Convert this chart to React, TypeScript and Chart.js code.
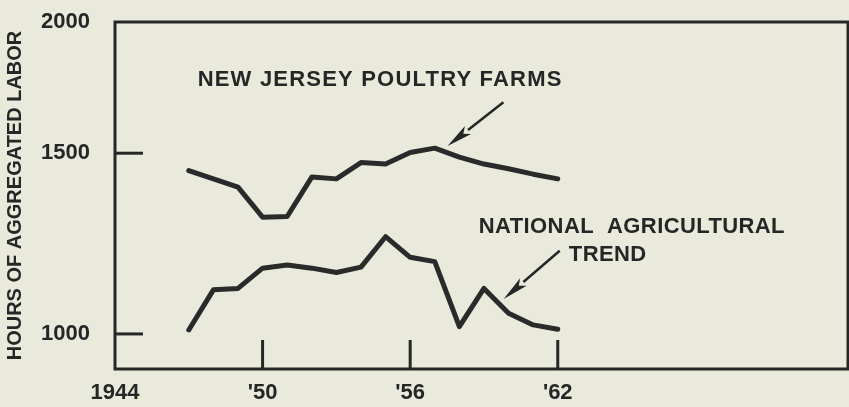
import React, { useEffect, useRef } from "react";
import { Chart, registerables } from "chart.js";

Chart.register(...registerables);

// ---- data ----
const years = [1947, 1948, 1949, 1950, 1951, 1952, 1953, 1954, 1955, 1956, 1957, 1958, 1959, 1960, 1961, 1962];
const njPoultry = [1452, 1429, 1406, 1323, 1325, 1434, 1429, 1474, 1470, 1502, 1514, 1489, 1470, 1457, 1442, 1429];
const nationalTrend = [1011, 1122, 1126, 1182, 1191, 1182, 1170, 1185, 1269, 1212, 1200, 1020, 1126, 1057, 1025, 1013];

const xTickValues = [1944, 1950, 1956, 1962];
const xTickLabels = ["1944", "'50", "'56", "'62"];
const xMarkValues = [1950, 1956, 1962];
const yTickValues = [1000, 1500, 1863];
const yTickLabels = ["1000", "1500", "2000"];
const yMarkValues = [1000, 1500];
const xMin = 1944;
const xMax = 1973.8;
const yMin = 903;
const yMax = 1863;
const yAxisTitle = "HOURS OF AGGREGATED LABOR";

const labelTexts = ["NEW JERSEY POULTRY FARMS", "NATIONAL  AGRICULTURAL", "TREND"];
const labelX = [1947.36, 1958.79, 1962.45];
const labelY = [1703, 1296, 1219];
const arrowFromX = [1959.79, 1962.08];
const arrowFromY = [1641, 1230];
const arrowToX = [1957.52, 1959.8];
const arrowToY = [1520, 1097];

const INK = "#262626";
const BG = "#e9eadb";
const FONT = "'Liberation Sans', Arial, sans-serif";

const decorPlugin = {
  id: "decor",
  afterDatasetsDraw(chart: any) {
    const { ctx, chartArea: a, scales } = chart;
    const xs = scales.x;
    const ys = scales.y;
    ctx.save();
    ctx.strokeStyle = INK;
    ctx.fillStyle = INK;
    // frame
    ctx.lineWidth = 3;
    ctx.strokeRect(a.left, a.top, a.right - a.left, a.bottom - a.top);
    // inward tick marks
    ctx.lineWidth = 3;
    ctx.lineCap = "butt";
    xMarkValues.forEach((v) => {
      const px = xs.getPixelForValue(v);
      ctx.beginPath();
      ctx.moveTo(px, a.bottom);
      ctx.lineTo(px, a.bottom - 29);
      ctx.stroke();
    });
    yMarkValues.forEach((v) => {
      const py = ys.getPixelForValue(v);
      ctx.beginPath();
      ctx.moveTo(a.left, py);
      ctx.lineTo(a.left + 28, py);
      ctx.stroke();
    });
    // labels
    ctx.font = `bold 22px ${FONT}`;
    ctx.textAlign = "left";
    ctx.textBaseline = "middle";
    labelTexts.forEach((t, i) => {
      (ctx as any).letterSpacing = i === 0 ? "1.2px" : "0.4px";
      ctx.fillText(t, xs.getPixelForValue(labelX[i]), ys.getPixelForValue(labelY[i]));
    });
    (ctx as any).letterSpacing = "0px";
    // arrows
    arrowFromX.forEach((_, i) => {
      const x1 = xs.getPixelForValue(arrowFromX[i]);
      const y1 = ys.getPixelForValue(arrowFromY[i]);
      const x2 = xs.getPixelForValue(arrowToX[i]);
      const y2 = ys.getPixelForValue(arrowToY[i]);
      const ang = Math.atan2(y2 - y1, x2 - x1);
      const headLen = 26;
      const halfW = 5;
      const bx = x2 - headLen * Math.cos(ang);
      const by = y2 - headLen * Math.sin(ang);
      ctx.lineWidth = 2.5;
      ctx.beginPath();
      ctx.moveTo(x1, y1);
      ctx.lineTo(bx, by);
      ctx.stroke();
      ctx.beginPath();
      ctx.moveTo(x2, y2);
      ctx.lineTo(bx + halfW * Math.sin(ang), by - halfW * Math.cos(ang));
      ctx.lineTo(bx + 6 * Math.cos(ang), by + 6 * Math.sin(ang));
      ctx.lineTo(bx - halfW * Math.sin(ang), by + halfW * Math.cos(ang));
      ctx.closePath();
      ctx.fill();
    });
    ctx.restore();
  },
};

export default function App() {
  const canvasRef = useRef<HTMLCanvasElement | null>(null);

  useEffect(() => {
    if (!canvasRef.current) return;
    const mk = (vals: number[]) => years.map((y, i) => ({ x: y, y: vals[i] }));
    const lineStyle = {
      borderColor: "#2a2a2a",
      borderWidth: 5,
      pointRadius: 0,
      tension: 0,
      fill: false,
      borderJoinStyle: "round" as const,
      borderCapStyle: "round" as const,
    };
    const chart = new Chart(canvasRef.current, {
      type: "line",
      data: {
        datasets: [
          { label: "New Jersey poultry farms", data: mk(njPoultry), ...lineStyle },
          { label: "National agricultural trend", data: mk(nationalTrend), ...lineStyle },
        ],
      },
      options: {
        animation: false,
        responsive: true,
        maintainAspectRatio: false,
        layout: { padding: { top: 22, right: 1, left: 0, bottom: 0 } },
        plugins: { legend: { display: false }, tooltip: { enabled: false }, title: { display: false } },
        scales: {
          x: {
            type: "linear",
            min: xMin,
            max: xMax,
            grid: { display: false, drawTicks: false },
            border: { display: false },
            afterBuildTicks: (scale: any) => {
              scale.ticks = xTickValues.map((v) => ({ value: v }));
            },
            afterFit: (scale: any) => {
              scale.height = 38;
              scale.paddingLeft = 0;
              scale.paddingRight = 0;
            },
            ticks: {
              autoSkip: false,
              maxRotation: 0,
              padding: 11,
              color: INK,
              font: { family: FONT, size: 22, weight: "bold" },
              callback: (v: any) => {
                const i = xTickValues.indexOf(Number(v));
                return i >= 0 ? xTickLabels[i] : "";
              },
            },
          },
          y: {
            type: "linear",
            min: yMin,
            max: yMax,
            grid: { display: false, drawTicks: false },
            border: { display: false },
            afterBuildTicks: (scale: any) => {
              scale.ticks = yTickValues.map((v) => ({ value: v }));
            },
            afterFit: (scale: any) => {
              scale.width = 115;
              scale.paddingTop = 0;
              scale.paddingBottom = 0;
            },
            title: {
              display: true,
              text: yAxisTitle,
              color: INK,
              font: { family: FONT, size: 20, weight: "bold" },
              padding: { top: 3, bottom: 0 },
            },
            ticks: {
              autoSkip: false,
              padding: 25,
              color: INK,
              font: { family: FONT, size: 22, weight: "bold" },
              callback: (v: any) => {
                const i = yTickValues.indexOf(Number(v));
                return i >= 0 ? yTickLabels[i] : "";
              },
            },
          },
        },
      },
      plugins: [decorPlugin],
    });
    return () => chart.destroy();
  }, []);

  return (
    <div style={{ position: "fixed", left: 0, top: 0, width: 849, height: 407, background: BG }}>
      <canvas ref={canvasRef} />
    </div>
  );
}
